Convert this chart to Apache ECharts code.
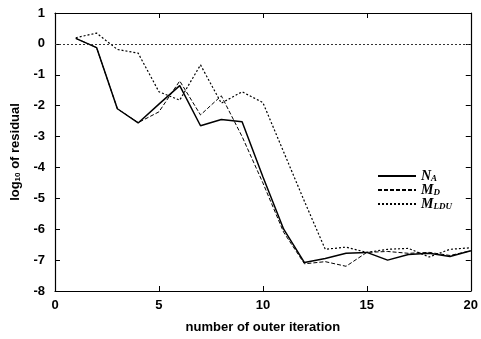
<!DOCTYPE html>
<html>
<head>
<meta charset="utf-8">
<script src="https://cdn.jsdelivr.net/npm/echarts@6/dist/echarts.min.js"></script>
<style>
  html, body { margin: 0; padding: 0; background: #fff; }
  #chart { width: 481px; height: 339px; }
</style>
</head>
<body>
<div id="chart"></div>
<script>
// outer iteration numbers
const iterations = [1, 2, 3, 4, 5, 6, 7, 8, 9, 10, 11, 12, 13, 14, 15, 16, 17, 18, 19, 20];
// log10 of residual per series
const naValues = [0.18, -0.12, -2.1, -2.56, -1.95, -1.35, -2.65, -2.45, -2.52, -4.3, -6.0, -7.08, -6.95, -6.78, -6.75, -7.0, -6.82, -6.78, -6.88, -6.7];
const mdValues = [0.18, -0.12, -2.1, -2.55, -2.2, -1.2, -2.3, -1.68, -3.0, -4.5, -6.1, -7.12, -7.05, -7.2, -6.75, -6.72, -6.78, -6.75, -6.85, -6.7];
const mlduValues = [0.2, 0.35, -0.18, -0.3, -1.55, -1.82, -0.68, -1.92, -1.55, -1.9, -3.5, -5.1, -6.65, -6.58, -6.75, -6.65, -6.62, -6.9, -6.65, -6.6];
const seriesNames = ["N_A", "M_D", "M_LDU"];
const xTicks = [0, 20];
const yTicks = [-8, 1];

const chart = echarts.init(document.getElementById("chart"));

const pairs = (vals) => iterations.map((it, i) => [it, vals[i]]);

const txt = { color: "#000", fontFamily: "Liberation Sans", fontSize: 13, fontWeight: "bold" };

const legendNames = {
  N_A: "{m|N}{s|A}",
  M_D: "{m|M}{s|D}",
  M_LDU: "{m|M}{s|LDU}",
};

const frameLine = { onZero: false, lineStyle: { color: "#000", width: 1.2 } };
const frameTick = { inside: true, length: 5, lineStyle: { color: "#000" } };

const option = {
  backgroundColor: "#fff",
  animation: false,
  grid: { left: 55, right: 7, top: 13, bottom: 40 },
  legend: {
    orient: "vertical",
    left: 372,
    top: 164,
    itemWidth: 38,
    itemHeight: 10,
    itemGap: 0,
    data: seriesNames,
    itemStyle: { opacity: 0 },
    formatter: (n) => legendNames[n],
    textStyle: {
      rich: {
        m: { fontFamily: "Liberation Serif", fontStyle: "italic", fontWeight: "bold", fontSize: 14, color: "#000", lineHeight: 14 },
        s: { fontFamily: "Liberation Serif", fontStyle: "italic", fontWeight: "bold", fontSize: 9, color: "#000", verticalAlign: "bottom", lineHeight: 10 },
      },
    },
  },
  xAxis: [
    {
      type: "value",
      min: xTicks[0],
      max: xTicks[1],
      interval: 5,
      name: "number of outer iteration",
      nameLocation: "middle",
      nameGap: 30,
      nameTextStyle: txt,
      axisLine: frameLine,
      axisTick: frameTick,
      axisLabel: Object.assign({ margin: 8 }, txt),
      splitLine: { show: false },
    },
    {
      type: "value",
      position: "top",
      min: xTicks[0],
      max: xTicks[1],
      interval: 5,
      axisLine: frameLine,
      axisTick: frameTick,
      axisLabel: { show: false },
      splitLine: { show: false },
    },
  ],
  yAxis: [
    {
      type: "value",
      min: yTicks[0],
      max: yTicks[1],
      interval: 1,
      name: "{a|log}{b|10}{a| of residual}",
      nameLocation: "middle",
      nameGap: 33,
      nameTextStyle: {
        rich: {
          a: { color: "#000", fontFamily: "Liberation Sans", fontSize: 13, fontWeight: "bold", lineHeight: 14 },
          b: { color: "#000", fontFamily: "Liberation Sans", fontSize: 8, fontWeight: "bold", verticalAlign: "bottom", lineHeight: 9 },
        },
      },
      axisLine: frameLine,
      axisTick: frameTick,
      axisLabel: Object.assign({ margin: 10 }, txt),
      splitLine: { show: false },
    },
    {
      type: "value",
      position: "right",
      min: yTicks[0],
      max: yTicks[1],
      interval: 1,
      axisLine: frameLine,
      axisTick: frameTick,
      axisLabel: { show: false },
      splitLine: { show: false },
    },
  ],
  series: [
    {
      name: seriesNames[0],
      type: "line",
      symbol: "none",
      data: pairs(naValues),
      lineStyle: { color: "#000", width: 1.5, type: "solid" },
      itemStyle: { color: "#000" },
      markLine: {
        silent: true,
        symbol: "none",
        label: { show: false },
        lineStyle: { color: "#333", width: 1, type: [2, 2] },
        data: [{ yAxis: 0 }],
      },
    },
    {
      name: seriesNames[1],
      type: "line",
      symbol: "none",
      data: pairs(mdValues),
      lineStyle: { color: "#000", width: 1, type: [4, 2] },
      itemStyle: { color: "#000" },
    },
    {
      name: seriesNames[2],
      type: "line",
      symbol: "none",
      data: pairs(mlduValues),
      lineStyle: { color: "#000", width: 1.2, type: [2, 2] },
      itemStyle: { color: "#000" },
    },
  ],
};

chart.setOption(option);
</script>
</body>
</html>
